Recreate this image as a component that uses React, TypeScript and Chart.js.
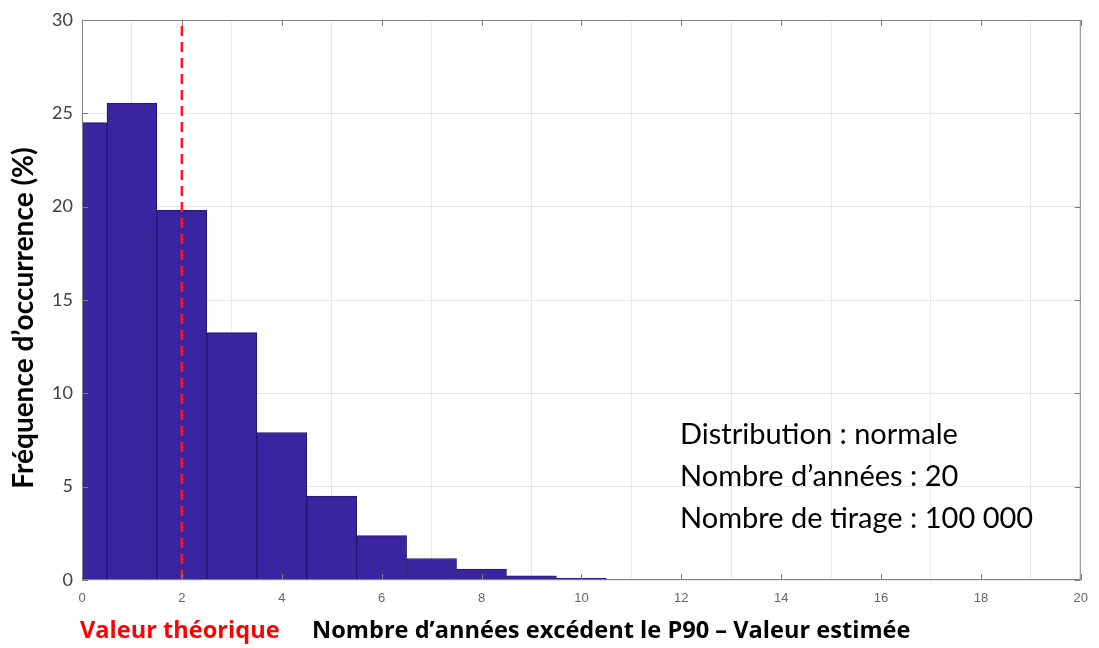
import React, { useEffect, useRef } from "react";
import { Chart, registerables } from "chart.js";

Chart.register(...registerables);

const binCenters = [0, 1, 2, 3, 4, 5, 6, 7, 8, 9, 10, 11, 12, 13, 14, 15, 16, 17, 18, 19];
const frequencies = [24.5, 25.55, 19.8, 13.25, 7.9, 4.5, 2.38, 1.15, 0.58, 0.22, 0.09, 0.03, 0.01, 0, 0, 0, 0, 0, 0, 0];
const theoreticalValue = 2;
const yTitle = "Fréquence d’occurrence (%)";
const xTitle = "Nombre d’années excédent le P90 – Valeur estimée";
const theoreticalLabel = "Valeur théorique";
const infoLines = ["Distribution : normale", "Nombre d’années : 20", "Nombre de tirage : 100 000"];

const W = 1099;
const H = 648;
const FONT = "Lato, 'Noto Sans', sans-serif";
const BOLD_FONT = "'Open Sans', 'Noto Sans', sans-serif";

const boxPlugin = {
  id: "boxPlugin",
  afterDatasetsDraw(chart: any) {
    const { ctx, chartArea: a, scales } = chart;
    ctx.save();
    ctx.strokeStyle = "#808080";
    ctx.lineWidth = 1;
    ctx.strokeRect(a.left + 0.5, a.top + 0.5, a.right - a.left - 1, a.bottom - a.top - 1);
    const len = 6;
    ctx.beginPath();
    scales.x.ticks.forEach((t: any) => {
      const px = Math.round(scales.x.getPixelForValue(t.value)) + 0.5;
      ctx.moveTo(px, a.top);
      ctx.lineTo(px, a.top + len);
      ctx.moveTo(px, a.bottom);
      ctx.lineTo(px, a.bottom - len);
    });
    scales.y.ticks.forEach((t: any) => {
      const py = Math.round(scales.y.getPixelForValue(t.value)) + 0.5;
      ctx.moveTo(a.left, py);
      ctx.lineTo(a.left + len, py);
      ctx.moveTo(a.right, py);
      ctx.lineTo(a.right - len, py);
    });
    ctx.stroke();
    ctx.restore();
  },
};

export default function App() {
  const ref = useRef<HTMLCanvasElement | null>(null);

  useEffect(() => {
    if (!ref.current) return;
    const chart = new Chart(ref.current, {
      type: "bar",
      data: {
        datasets: [
          {
            type: "line",
            data: [
              { x: theoreticalValue, y: 0 },
              { x: theoreticalValue, y: 30 },
            ],
            borderColor: "#ff1a1a",
            borderWidth: 2.5,
            borderDash: [10, 6],
            pointRadius: 0,
            order: 0,
            clip: 0,
          } as any,
          {
            type: "bar",
            data: binCenters.map((x, i) => ({ x, y: frequencies[i] })),
            backgroundColor: "#3a24a0",
            borderColor: "#24166e",
            borderWidth: 1,
            borderSkipped: "bottom",
            barPercentage: 1,
            categoryPercentage: 1,
            order: 1,
            clip: 0,
          } as any,
        ],
      },
      options: {
        responsive: false,
        animation: false,
        layout: { padding: { left: 0, top: 20, right: 11, bottom: 0 } },
        plugins: { legend: { display: false }, tooltip: { enabled: false } },
        scales: {
          x: {
            type: "linear",
            min: 0,
            max: 20,
            offset: false,
            afterFit: (s: any) => {
              s.height = 68;
            },
            ticks: {
              stepSize: 2,
              color: "#666",
              padding: 11,
              font: { family: "'Liberation Sans', Arial, sans-serif", size: 13 },
            },
            grid: { color: "#e8e8e8", drawTicks: false },
            border: { display: false },
          },
          y: {
            min: 0,
            max: 30,
            afterFit: (s: any) => {
              s.width = 82;
            },
            ticks: {
              stepSize: 5,
              color: "#404040",
              padding: 9,
              font: { family: FONT, size: 18 },
            },
            grid: { color: "#e8e8e8", drawTicks: false },
            border: { display: false },
          },
        },
      },
      plugins: [boxPlugin],
    } as any);
    return () => chart.destroy();
  }, []);

  return (
    <div style={{ position: "absolute", left: 0, top: 0, width: W, height: H, background: "#fff" }}>
      <canvas ref={ref} width={W} height={H} style={{ display: "block" }} />
      <div
        style={{
          position: "absolute",
          left: 22.2 - 250,
          top: 317.5 - 17,
          width: 500,
          height: 34,
          lineHeight: "34px",
          textAlign: "center",
          transform: "rotate(-90deg)",
          fontFamily: FONT,
          fontSize: 28,
          fontWeight: "bold",
          color: "#000",
          whiteSpace: "nowrap",
        }}
      >
        {yTitle}
      </div>
      <div
        style={{
          position: "absolute",
          left: 680,
          top: 412,
          fontFamily: FONT,
          fontSize: 29,
          lineHeight: "42px",
          color: "#000",
          whiteSpace: "nowrap",
        }}
      >
        {infoLines.map((l) => (
          <div key={l}>{l}</div>
        ))}
      </div>
      <div
        style={{
          position: "absolute",
          left: 80,
          top: 614,
          fontFamily: BOLD_FONT,
          fontSize: 23.6,
          fontWeight: "bold",
          lineHeight: "30px",
          color: "#ff0000",
          whiteSpace: "nowrap",
        }}
      >
        {theoreticalLabel}
      </div>
      <div
        style={{
          position: "absolute",
          left: 312,
          top: 614,
          fontFamily: BOLD_FONT,
          fontSize: 23.6,
          fontWeight: "bold",
          lineHeight: "30px",
          color: "#000",
          whiteSpace: "nowrap",
        }}
      >
        {xTitle}
      </div>
    </div>
  );
}
